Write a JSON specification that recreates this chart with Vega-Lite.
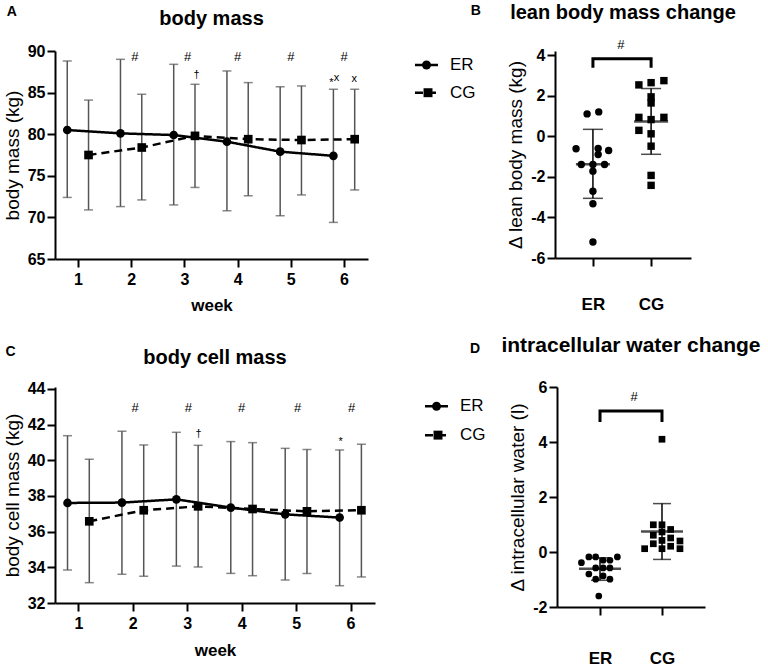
{
"$schema": "https://vega.github.io/schema/vega-lite/v6.json",
"padding": {"left": 3, "top": 3, "right": 3, "bottom": 3},
"background": "white",
"config": {
  "view": {"stroke": null},
  "axis": {"domainColor": "black", "domainWidth": 2, "tickColor": "black", "tickWidth": 2, "tickSize": 8, "labelFont": "Liberation Sans", "labelFontSize": 16, "labelFontWeight": "bold", "labelColor": "black", "labelOverlap": false, "titleFont": "Liberation Sans", "titleFontSize": 19, "titleFontWeight": "normal", "titleColor": "black", "grid": false},
  "title": {"font": "Liberation Sans", "fontSize": 20, "fontWeight": "bold", "color": "black"},
  "text": {"font": "Liberation Sans", "color": "black"}
},
"datasets": {
  "bm": [
    {"week":1,"group":"ER","mean":80.5,"lo":72.4,"hi":88.8},
    {"week":2,"group":"ER","mean":80.1,"lo":71.3,"hi":89.0},
    {"week":3,"group":"ER","mean":79.9,"lo":71.5,"hi":88.4},
    {"week":4,"group":"ER","mean":79.1,"lo":70.8,"hi":87.6},
    {"week":5,"group":"ER","mean":77.9,"lo":70.2,"hi":85.7},
    {"week":6,"group":"ER","mean":77.4,"lo":69.4,"hi":85.4},
    {"week":1,"group":"CG","mean":77.5,"lo":70.9,"hi":84.1},
    {"week":2,"group":"CG","mean":78.4,"lo":72.1,"hi":84.8},
    {"week":3,"group":"CG","mean":79.8,"lo":73.6,"hi":86.0},
    {"week":4,"group":"CG","mean":79.4,"lo":72.6,"hi":86.2},
    {"week":5,"group":"CG","mean":79.3,"lo":72.7,"hi":85.8},
    {"week":6,"group":"CG","mean":79.4,"lo":73.3,"hi":85.4}
  ],
  "bcm": [
    {"week":1,"group":"ER","mean":37.61,"lo":33.85,"hi":41.38},
    {"week":2,"group":"ER","mean":37.63,"lo":33.61,"hi":41.63},
    {"week":3,"group":"ER","mean":37.81,"lo":34.07,"hi":41.57},
    {"week":4,"group":"ER","mean":37.35,"lo":33.66,"hi":41.05},
    {"week":5,"group":"ER","mean":36.97,"lo":33.29,"hi":40.67},
    {"week":6,"group":"ER","mean":36.79,"lo":32.97,"hi":40.58},
    {"week":1,"group":"CG","mean":36.58,"lo":33.14,"hi":40.06},
    {"week":2,"group":"CG","mean":37.20,"lo":33.50,"hi":40.86},
    {"week":3,"group":"CG","mean":37.42,"lo":34.02,"hi":40.84},
    {"week":4,"group":"CG","mean":37.27,"lo":33.53,"hi":40.99},
    {"week":5,"group":"CG","mean":37.14,"lo":33.66,"hi":40.60},
    {"week":6,"group":"CG","mean":37.20,"lo":33.46,"hi":40.90}
  ],
  "annA": [
    {"kind":"sig","s":"#","t":2.07,"v":89.3},
    {"kind":"sig","s":"#","t":3.06,"v":89.3},
    {"kind":"sig","s":"#","t":4.0,"v":89.3},
    {"kind":"sig","s":"#","t":5.0,"v":89.3},
    {"kind":"sig","s":"#","t":6.0,"v":89.3},
    {"kind":"small","s":"†","t":3.23,"v":87.1},
    {"kind":"small","s":"*","t":5.76,"v":86.2},
    {"kind":"small","s":"x","t":5.86,"v":86.8},
    {"kind":"small","s":"x","t":6.19,"v":86.6},
    {"kind":"panel","s":"A","t":-0.243,"v":94.65}
  ],
  "annC": [
    {"kind":"sig","s":"#","t":2.04,"v":42.92},
    {"kind":"sig","s":"#","t":3.02,"v":42.92},
    {"kind":"sig","s":"#","t":4.0,"v":42.92},
    {"kind":"sig","s":"#","t":5.03,"v":42.92},
    {"kind":"sig","s":"#","t":6.02,"v":42.92},
    {"kind":"small","s":"†","t":3.21,"v":41.48},
    {"kind":"small","s":"*","t":5.82,"v":41.0},
    {"kind":"panel","s":"C","t":-0.248,"v":46.07}
  ],
  "lbm": [
    {"group":"ER","d":1.10,"jit":-0.10},
    {"group":"ER","d":1.20,"jit":0.10},
    {"group":"ER","d":-0.62,"jit":-0.29},
    {"group":"ER","d":-0.60,"jit":0.09},
    {"group":"ER","d":-0.70,"jit":0.27},
    {"group":"ER","d":-0.90,"jit":0.09},
    {"group":"ER","d":-1.39,"jit":-0.20},
    {"group":"ER","d":-1.39,"jit":0.0},
    {"group":"ER","d":-1.39,"jit":0.20},
    {"group":"ER","d":-1.72,"jit":0.0},
    {"group":"ER","d":-2.71,"jit":0.0},
    {"group":"ER","d":-3.33,"jit":0.0},
    {"group":"ER","d":-5.21,"jit":0.0},
    {"group":"CG","d":2.53,"jit":-0.21},
    {"group":"CG","d":2.64,"jit":0.0},
    {"group":"CG","d":2.74,"jit":0.22},
    {"group":"CG","d":1.94,"jit":0.0},
    {"group":"CG","d":1.64,"jit":0.0},
    {"group":"CG","d":0.93,"jit":-0.21},
    {"group":"CG","d":0.82,"jit":0.0},
    {"group":"CG","d":0.93,"jit":0.22},
    {"group":"CG","d":0.29,"jit":-0.21},
    {"group":"CG","d":0.12,"jit":0.0},
    {"group":"CG","d":-0.49,"jit":0.0},
    {"group":"CG","d":-1.93,"jit":0.0},
    {"group":"CG","d":-2.42,"jit":0.0}
  ],
  "lbmStats": [
    {"group":"ER","mean":-1.38,"lo":-3.06,"hi":0.34},
    {"group":"CG","mean":0.73,"lo":-0.89,"hi":2.35}
  ],
  "lbmBracket": [
    {"group":"ER","v":3.38,"o":1},
    {"group":"ER","v":3.82,"o":2},
    {"group":"CG","v":3.82,"o":3},
    {"group":"CG","v":3.38,"o":4}
  ],
  "annB": [
    {"kind":"sig","s":"#","t":1.48,"v":4.5},
    {"kind":"panel","s":"B","t":-1.015,"v":6.17}
  ],
  "legB": [
    {"group":"ER","a":-2.059,"b":-1.663,"c":-1.861,"l":-1.457,"v":3.51},
    {"group":"CG","a":-2.059,"b":-1.680,"c":-1.835,"l":-1.457,"v":2.145}
  ],
  "icw": [
    {"group":"ER","d":-0.39,"jit":-0.30},
    {"group":"ER","d":-0.18,"jit":-0.18},
    {"group":"ER","d":-0.18,"jit":-0.07},
    {"group":"ER","d":-0.30,"jit":0.05},
    {"group":"ER","d":-0.30,"jit":0.16},
    {"group":"ER","d":-0.18,"jit":0.28},
    {"group":"ER","d":-0.58,"jit":-0.07},
    {"group":"ER","d":-0.58,"jit":0.05},
    {"group":"ER","d":-0.58,"jit":0.16},
    {"group":"ER","d":-0.80,"jit":-0.18},
    {"group":"ER","d":-0.87,"jit":0.05},
    {"group":"ER","d":-0.99,"jit":-0.07},
    {"group":"ER","d":-0.99,"jit":0.16},
    {"group":"ER","d":-1.60,"jit":-0.02},
    {"group":"CG","d":4.10,"jit":0.0},
    {"group":"CG","d":0.99,"jit":-0.14},
    {"group":"CG","d":0.99,"jit":0.0},
    {"group":"CG","d":0.82,"jit":0.14},
    {"group":"CG","d":0.61,"jit":-0.14},
    {"group":"CG","d":0.73,"jit":0.0},
    {"group":"CG","d":0.51,"jit":0.14},
    {"group":"CG","d":0.40,"jit":0.29},
    {"group":"CG","d":0.30,"jit":-0.14},
    {"group":"CG","d":0.42,"jit":0.0},
    {"group":"CG","d":0.12,"jit":-0.28},
    {"group":"CG","d":0.12,"jit":0.0},
    {"group":"CG","d":0.21,"jit":0.14},
    {"group":"CG","d":0.12,"jit":0.29}
  ],
  "icwStats": [
    {"group":"ER","mean":-0.61,"lo":-1.03,"hi":-0.21},
    {"group":"CG","mean":0.75,"lo":-0.27,"hi":1.76}
  ],
  "icwBracket": [
    {"group":"ER","v":4.73,"o":1},
    {"group":"ER","v":5.13,"o":2},
    {"group":"CG","v":5.13,"o":3},
    {"group":"CG","v":4.73,"o":4}
  ],
  "annD": [
    {"kind":"sig","s":"#","t":1.55,"v":5.64},
    {"kind":"panel","s":"D","t":-1.016,"v":7.38}
  ],
  "legD": [
    {"group":"ER","a":-1.824,"b":-1.453,"c":-1.638,"l":-1.259,"v":5.30},
    {"group":"CG","a":-1.824,"b":-1.470,"c":-1.614,"l":-1.259,"v":4.25}
  ]
},
"spacing": 336,
"bounds": "flush",
"vconcat": [
 {
  "spacing": 187,
  "bounds": "flush",
  "hconcat": [
   {
    "width": 313, "height": 208,
    "title": {"text": "body mass", "anchor": "middle", "frame": "group", "offset": -24},
    "layer": [
     {
      "data": {"name": "bm"},
      "transform": [{"calculate": "datum.week + (datum.group == 'ER' ? -0.2 : 0.2)", "as": "t"}],
      "layer": [
       {"mark": {"type": "rule", "color": "#555555", "strokeWidth": 1.5},
        "encoding": {
          "x": {"field": "t", "type": "quantitative", "scale": {"domain": [0.57, 6.45], "nice": false, "zero": false},
                "axis": {"values": [1,2,3,4,5,6], "title": "week", "titleFontWeight": "bold", "titleFontSize": 17, "labelPadding": 4, "titlePadding": 10, "labelOverlap": false}},
          "y": {"field": "lo", "type": "quantitative", "scale": {"domain": [65, 90], "nice": false, "zero": false},
                "axis": {"values": [65,70,75,80,85,90], "title": "body mass (kg)", "labelPadding": 2, "titlePadding": 5, "labelOverlap": false}},
          "y2": {"field": "hi"}}},
       {"mark": {"type": "tick", "orient": "horizontal", "color": "#555555", "size": 9, "thickness": 1.5},
        "encoding": {
          "x": {"field": "t", "type": "quantitative", "scale": {"domain": [0.57, 6.45], "nice": false, "zero": false}},
          "y": {"field": "lo", "type": "quantitative", "scale": {"domain": [65, 90], "nice": false, "zero": false}}}},
       {"mark": {"type": "tick", "orient": "horizontal", "color": "#555555", "size": 9, "thickness": 1.5},
        "encoding": {
          "x": {"field": "t", "type": "quantitative", "scale": {"domain": [0.57, 6.45], "nice": false, "zero": false}},
          "y": {"field": "hi", "type": "quantitative", "scale": {"domain": [65, 90], "nice": false, "zero": false}}}},
       {"mark": {"type": "line", "color": "black", "strokeWidth": 2.5},
        "encoding": {
          "x": {"field": "t", "type": "quantitative", "scale": {"domain": [0.57, 6.45], "nice": false, "zero": false}},
          "y": {"field": "mean", "type": "quantitative", "scale": {"domain": [65, 90], "nice": false, "zero": false}},
          "strokeDash": {"field": "group", "type": "nominal", "scale": {"domain": ["ER","CG"], "range": [[1,0],[8,5]]}, "legend": null}}},
       {"mark": {"type": "point", "filled": true, "color": "black", "opacity": 1, "size": 75},
        "encoding": {
          "x": {"field": "t", "type": "quantitative", "scale": {"domain": [0.57, 6.45], "nice": false, "zero": false}},
          "y": {"field": "mean", "type": "quantitative", "scale": {"domain": [65, 90], "nice": false, "zero": false}},
          "shape": {"field": "group", "type": "nominal", "scale": {"domain": ["ER","CG"], "range": ["circle","square"]}, "legend": null}}}
      ]
     },
     {
      "data": {"name": "annA"},
      "layer": [
       {"transform": [{"filter": "datum.kind == 'sig'"}],
        "mark": {"type": "text", "fontSize": 13, "baseline": "middle", "align": "center"},
        "encoding": {
          "x": {"field": "t", "type": "quantitative", "scale": {"domain": [0.57, 6.45], "nice": false, "zero": false}},
          "y": {"field": "v", "type": "quantitative", "scale": {"domain": [65, 90], "nice": false, "zero": false}},
          "text": {"field": "s"}}},
       {"transform": [{"filter": "datum.kind == 'small'"}],
        "mark": {"type": "text", "fontSize": 11, "baseline": "middle", "align": "center"},
        "encoding": {
          "x": {"field": "t", "type": "quantitative", "scale": {"domain": [0.57, 6.45], "nice": false, "zero": false}},
          "y": {"field": "v", "type": "quantitative", "scale": {"domain": [65, 90], "nice": false, "zero": false}},
          "text": {"field": "s"}}},
       {"transform": [{"filter": "datum.kind == 'panel'"}],
        "mark": {"type": "text", "fontSize": 14, "fontWeight": "bold", "baseline": "middle", "align": "center"},
        "encoding": {
          "x": {"field": "t", "type": "quantitative", "scale": {"domain": [0.57, 6.45], "nice": false, "zero": false}},
          "y": {"field": "v", "type": "quantitative", "scale": {"domain": [65, 90], "nice": false, "zero": false}},
          "text": {"field": "s"}}}
      ]
     }
    ]
   },
   {
    "width": 136, "height": 207,
    "title": {"text": "lean body mass change", "anchor": "middle", "frame": "group", "offset": -19},
    "layer": [
     {"mark": {"type": "rule", "color": "black", "strokeWidth": 2, "strokeDash": [2,5]},
      "encoding": {"y": {"datum": 0, "type": "quantitative", "scale": {"domain": [-6, 4.2], "nice": false, "zero": false}}}},
     {"data": {"name": "lbm"},
      "transform": [{"calculate": "(datum.group == 'ER' ? 1 : 2) + datum.jit", "as": "xp"}],
      "layer": [
       {"transform": [{"filter": "datum.group == 'ER'"}],
        "mark": {"type": "point", "shape": "circle", "filled": true, "color": "black", "opacity": 1, "size": 55},
        "encoding": {
          "x": {"field": "xp", "type": "quantitative", "scale": {"domain": [0.348, 2.686], "nice": false, "zero": false},
                "axis": {"values": [1,2], "labelExpr": "datum.value == 1 ? 'ER' : 'CG'", "title": null, "labelFontSize": 17, "labelPadding": 30, "labelOverlap": false}},
          "y": {"field": "d", "type": "quantitative", "scale": {"domain": [-6, 4.2], "nice": false, "zero": false},
                "axis": {"values": [-6,-4,-2,0,2,4], "labelExpr": "'' + datum.value", "title": "Δ lean body mass (kg)", "labelPadding": 2, "titlePadding": 5, "labelOverlap": false}}}},
       {"transform": [{"filter": "datum.group == 'CG'"}],
        "mark": {"type": "point", "shape": "square", "filled": true, "color": "black", "opacity": 1, "size": 55},
        "encoding": {
          "x": {"field": "xp", "type": "quantitative", "scale": {"domain": [0.348, 2.686], "nice": false, "zero": false}},
          "y": {"field": "d", "type": "quantitative", "scale": {"domain": [-6, 4.2], "nice": false, "zero": false}}}}
      ]},
     {"data": {"name": "lbmStats"},
      "transform": [{"calculate": "datum.group == 'ER' ? 1 : 2", "as": "xp"}],
      "layer": [
       {"mark": {"type": "rule", "color": "black", "strokeWidth": 1.5},
        "encoding": {
          "x": {"field": "xp", "type": "quantitative", "scale": {"domain": [0.348, 2.686], "nice": false, "zero": false}},
          "y": {"field": "lo", "type": "quantitative", "scale": {"domain": [-6, 4.2], "nice": false, "zero": false}},
          "y2": {"field": "hi"}}},
       {"mark": {"type": "tick", "orient": "horizontal", "color": "black", "size": 20, "thickness": 1.5},
        "encoding": {
          "x": {"field": "xp", "type": "quantitative", "scale": {"domain": [0.348, 2.686], "nice": false, "zero": false}},
          "y": {"field": "lo", "type": "quantitative", "scale": {"domain": [-6, 4.2], "nice": false, "zero": false}}}},
       {"mark": {"type": "tick", "orient": "horizontal", "color": "black", "size": 20, "thickness": 1.5},
        "encoding": {
          "x": {"field": "xp", "type": "quantitative", "scale": {"domain": [0.348, 2.686], "nice": false, "zero": false}},
          "y": {"field": "hi", "type": "quantitative", "scale": {"domain": [-6, 4.2], "nice": false, "zero": false}}}},
       {"mark": {"type": "tick", "orient": "horizontal", "color": "black", "size": 34, "thickness": 2.5},
        "encoding": {
          "x": {"field": "xp", "type": "quantitative", "scale": {"domain": [0.348, 2.686], "nice": false, "zero": false}},
          "y": {"field": "mean", "type": "quantitative", "scale": {"domain": [-6, 4.2], "nice": false, "zero": false}}}}
      ]},
     {"data": {"name": "lbmBracket"},
      "transform": [{"calculate": "datum.group == 'ER' ? 1 : 2", "as": "xp"}],
      "mark": {"type": "line", "color": "black", "strokeWidth": 3, "strokeJoin": "miter", "strokeCap": "butt"},
      "encoding": {
        "x": {"field": "xp", "type": "quantitative", "scale": {"domain": [0.348, 2.686], "nice": false, "zero": false}},
        "y": {"field": "v", "type": "quantitative", "scale": {"domain": [-6, 4.2], "nice": false, "zero": false}},
        "order": {"field": "o"}}},
     {"data": {"name": "annB"},
      "layer": [
       {"transform": [{"filter": "datum.kind == 'sig'"}],
        "mark": {"type": "text", "fontSize": 13, "baseline": "middle", "align": "center"},
        "encoding": {
          "x": {"field": "t", "type": "quantitative", "scale": {"domain": [0.348, 2.686], "nice": false, "zero": false}},
          "y": {"field": "v", "type": "quantitative", "scale": {"domain": [-6, 4.2], "nice": false, "zero": false}},
          "text": {"field": "s"}}},
       {"transform": [{"filter": "datum.kind == 'panel'"}],
        "mark": {"type": "text", "fontSize": 14, "fontWeight": "bold", "baseline": "middle", "align": "center"},
        "encoding": {
          "x": {"field": "t", "type": "quantitative", "scale": {"domain": [0.348, 2.686], "nice": false, "zero": false}},
          "y": {"field": "v", "type": "quantitative", "scale": {"domain": [-6, 4.2], "nice": false, "zero": false}},
          "text": {"field": "s"}}}
      ]},
     {"data": {"name": "legB"},
      "layer": [
       {"mark": {"type": "rule", "color": "black", "strokeWidth": 2.5, "strokeCap": "butt"},
        "encoding": {
          "x": {"field": "a", "type": "quantitative", "scale": {"domain": [0.348, 2.686], "nice": false, "zero": false}},
          "x2": {"field": "b"},
          "y": {"field": "v", "type": "quantitative", "scale": {"domain": [-6, 4.2], "nice": false, "zero": false}},
          "strokeDash": {"field": "group", "type": "nominal", "scale": {"domain": ["ER","CG"], "range": [[1,0],[7,14,2,10]]}, "legend": null}}},
       {"mark": {"type": "point", "filled": true, "color": "black", "opacity": 1, "size": 80},
        "encoding": {
          "x": {"field": "c", "type": "quantitative", "scale": {"domain": [0.348, 2.686], "nice": false, "zero": false}},
          "y": {"field": "v", "type": "quantitative", "scale": {"domain": [-6, 4.2], "nice": false, "zero": false}},
          "shape": {"field": "group", "type": "nominal", "scale": {"domain": ["ER","CG"], "range": ["circle","square"]}, "legend": null}}},
       {"mark": {"type": "text", "fontSize": 17, "align": "left", "baseline": "middle"},
        "encoding": {
          "x": {"field": "l", "type": "quantitative", "scale": {"domain": [0.348, 2.686], "nice": false, "zero": false}},
          "y": {"field": "v", "type": "quantitative", "scale": {"domain": [-6, 4.2], "nice": false, "zero": false}},
          "text": {"field": "group"}}}
      ]}
    ]
   }
  ]
 },
 {
  "spacing": 182,
  "bounds": "flush",
  "hconcat": [
   {
    "width": 320, "height": 216,
    "title": {"text": "body cell mass", "anchor": "middle", "frame": "group", "offset": -23},
    "layer": [
     {
      "data": {"name": "bcm"},
      "transform": [{"calculate": "datum.week + (datum.group == 'ER' ? -0.2 : 0.2)", "as": "t"}],
      "layer": [
       {"mark": {"type": "rule", "color": "#555555", "strokeWidth": 1.5},
        "encoding": {
          "x": {"field": "t", "type": "quantitative", "scale": {"domain": [0.57, 6.45], "nice": false, "zero": false},
                "axis": {"values": [1,2,3,4,5,6], "title": "week", "titleFontWeight": "bold", "titleFontSize": 17, "labelPadding": 4, "titlePadding": 11, "labelOverlap": false}},
          "y": {"field": "lo", "type": "quantitative", "scale": {"domain": [32, 44.11], "nice": false, "zero": false},
                "axis": {"values": [32,34,36,38,40,42,44], "title": "body cell mass (kg)", "labelPadding": 2, "titlePadding": 5, "labelOverlap": false}},
          "y2": {"field": "hi"}}},
       {"mark": {"type": "tick", "orient": "horizontal", "color": "#555555", "size": 9, "thickness": 1.5},
        "encoding": {
          "x": {"field": "t", "type": "quantitative", "scale": {"domain": [0.57, 6.45], "nice": false, "zero": false}},
          "y": {"field": "lo", "type": "quantitative", "scale": {"domain": [32, 44.11], "nice": false, "zero": false},
                "axis": {"values": [32,34,36,38,40,42,44], "title": "body cell mass (kg)", "labelPadding": 2, "titlePadding": 5, "labelOverlap": false}}}},
       {"mark": {"type": "tick", "orient": "horizontal", "color": "#555555", "size": 9, "thickness": 1.5},
        "encoding": {
          "x": {"field": "t", "type": "quantitative", "scale": {"domain": [0.57, 6.45], "nice": false, "zero": false}},
          "y": {"field": "hi", "type": "quantitative", "scale": {"domain": [32, 44.11], "nice": false, "zero": false},
                "axis": {"values": [32,34,36,38,40,42,44], "title": "body cell mass (kg)", "labelPadding": 2, "titlePadding": 5, "labelOverlap": false}}}},
       {"mark": {"type": "line", "color": "black", "strokeWidth": 2.5},
        "encoding": {
          "x": {"field": "t", "type": "quantitative", "scale": {"domain": [0.57, 6.45], "nice": false, "zero": false}},
          "y": {"field": "mean", "type": "quantitative", "scale": {"domain": [32, 44.11], "nice": false, "zero": false},
                "axis": {"values": [32,34,36,38,40,42,44], "title": "body cell mass (kg)", "labelPadding": 2, "titlePadding": 5, "labelOverlap": false}},
          "strokeDash": {"field": "group", "type": "nominal", "scale": {"domain": ["ER","CG"], "range": [[1,0],[8,5]]}, "legend": null}}},
       {"mark": {"type": "point", "filled": true, "color": "black", "opacity": 1, "size": 75},
        "encoding": {
          "x": {"field": "t", "type": "quantitative", "scale": {"domain": [0.57, 6.45], "nice": false, "zero": false}},
          "y": {"field": "mean", "type": "quantitative", "scale": {"domain": [32, 44.11], "nice": false, "zero": false},
                "axis": {"values": [32,34,36,38,40,42,44], "title": "body cell mass (kg)", "labelPadding": 2, "titlePadding": 5, "labelOverlap": false}},
          "shape": {"field": "group", "type": "nominal", "scale": {"domain": ["ER","CG"], "range": ["circle","square"]}, "legend": null}}}
      ]
     },
     {
      "data": {"name": "annC"},
      "layer": [
       {"transform": [{"filter": "datum.kind == 'sig'"}],
        "mark": {"type": "text", "fontSize": 13, "baseline": "middle", "align": "center"},
        "encoding": {
          "x": {"field": "t", "type": "quantitative", "scale": {"domain": [0.57, 6.45], "nice": false, "zero": false}},
          "y": {"field": "v", "type": "quantitative", "scale": {"domain": [32, 44.11], "nice": false, "zero": false},
                "axis": {"values": [32,34,36,38,40,42,44], "title": "body cell mass (kg)", "labelPadding": 2, "titlePadding": 5, "labelOverlap": false}},
          "text": {"field": "s"}}},
       {"transform": [{"filter": "datum.kind == 'small'"}],
        "mark": {"type": "text", "fontSize": 11, "baseline": "middle", "align": "center"},
        "encoding": {
          "x": {"field": "t", "type": "quantitative", "scale": {"domain": [0.57, 6.45], "nice": false, "zero": false}},
          "y": {"field": "v", "type": "quantitative", "scale": {"domain": [32, 44.11], "nice": false, "zero": false},
                "axis": {"values": [32,34,36,38,40,42,44], "title": "body cell mass (kg)", "labelPadding": 2, "titlePadding": 5, "labelOverlap": false}},
          "text": {"field": "s"}}},
       {"transform": [{"filter": "datum.kind == 'panel'"}],
        "mark": {"type": "text", "fontSize": 14, "fontWeight": "bold", "baseline": "middle", "align": "center"},
        "encoding": {
          "x": {"field": "t", "type": "quantitative", "scale": {"domain": [0.57, 6.45], "nice": false, "zero": false}},
          "y": {"field": "v", "type": "quantitative", "scale": {"domain": [32, 44.11], "nice": false, "zero": false},
                "axis": {"values": [32,34,36,38,40,42,44], "title": "body cell mass (kg)", "labelPadding": 2, "titlePadding": 5, "labelOverlap": false}},
          "text": {"field": "s"}}}
      ]
     }
    ]
   },
   {
    "width": 148, "height": 220,
    "title": {"text": "intracellular water change", "anchor": "middle", "frame": "group", "offset": -14, "fontSize": 21},
    "layer": [
     {"mark": {"type": "rule", "color": "black", "strokeWidth": 2, "strokeDash": [2,5]},
      "encoding": {"y": {"datum": 0, "type": "quantitative", "scale": {"domain": [-2, 6], "nice": false, "zero": false}}}},
     {"data": {"name": "icw"},
      "transform": [{"calculate": "(datum.group == 'ER' ? 1 : 2) + datum.jit", "as": "xp"}],
      "layer": [
       {"transform": [{"filter": "datum.group == 'ER'"}],
        "mark": {"type": "point", "shape": "circle", "filled": true, "color": "black", "opacity": 1, "size": 45},
        "encoding": {
          "x": {"field": "xp", "type": "quantitative", "scale": {"domain": [0.306, 2.694], "nice": false, "zero": false},
                "axis": {"values": [1,2], "labelExpr": "datum.value == 1 ? 'ER' : 'CG'", "title": null, "labelFontSize": 17, "labelPadding": 35, "labelOverlap": false}},
          "y": {"field": "d", "type": "quantitative", "scale": {"domain": [-2, 6], "nice": false, "zero": false},
                "axis": {"values": [-2,0,2,4,6], "labelExpr": "'' + datum.value", "title": "Δ intracellular water (l)", "labelPadding": 2, "titlePadding": 5, "labelOverlap": false}}}},
       {"transform": [{"filter": "datum.group == 'CG'"}],
        "mark": {"type": "point", "shape": "square", "filled": true, "color": "black", "opacity": 1, "size": 45},
        "encoding": {
          "x": {"field": "xp", "type": "quantitative", "scale": {"domain": [0.306, 2.694], "nice": false, "zero": false}},
          "y": {"field": "d", "type": "quantitative", "scale": {"domain": [-2, 6], "nice": false, "zero": false}}}}
      ]},
     {"data": {"name": "icwStats"},
      "transform": [{"calculate": "datum.group == 'ER' ? 1 : 2", "as": "xp"}],
      "layer": [
       {"mark": {"type": "rule", "color": "black", "strokeWidth": 1.5},
        "encoding": {
          "x": {"field": "xp", "type": "quantitative", "scale": {"domain": [0.306, 2.694], "nice": false, "zero": false}},
          "y": {"field": "lo", "type": "quantitative", "scale": {"domain": [-2, 6], "nice": false, "zero": false}},
          "y2": {"field": "hi"}}},
       {"mark": {"type": "tick", "orient": "horizontal", "color": "black", "size": 18, "thickness": 1.5},
        "encoding": {
          "x": {"field": "xp", "type": "quantitative", "scale": {"domain": [0.306, 2.694], "nice": false, "zero": false}},
          "y": {"field": "lo", "type": "quantitative", "scale": {"domain": [-2, 6], "nice": false, "zero": false}}}},
       {"mark": {"type": "tick", "orient": "horizontal", "color": "black", "size": 18, "thickness": 1.5},
        "encoding": {
          "x": {"field": "xp", "type": "quantitative", "scale": {"domain": [0.306, 2.694], "nice": false, "zero": false}},
          "y": {"field": "hi", "type": "quantitative", "scale": {"domain": [-2, 6], "nice": false, "zero": false}}}},
       {"mark": {"type": "tick", "orient": "horizontal", "color": "black", "size": 42, "thickness": 2.5},
        "encoding": {
          "x": {"field": "xp", "type": "quantitative", "scale": {"domain": [0.306, 2.694], "nice": false, "zero": false}},
          "y": {"field": "mean", "type": "quantitative", "scale": {"domain": [-2, 6], "nice": false, "zero": false}}}}
      ]},
     {"data": {"name": "icwBracket"},
      "transform": [{"calculate": "datum.group == 'ER' ? 1 : 2", "as": "xp"}],
      "mark": {"type": "line", "color": "black", "strokeWidth": 3, "strokeJoin": "miter", "strokeCap": "butt"},
      "encoding": {
        "x": {"field": "xp", "type": "quantitative", "scale": {"domain": [0.306, 2.694], "nice": false, "zero": false}},
        "y": {"field": "v", "type": "quantitative", "scale": {"domain": [-2, 6], "nice": false, "zero": false}},
        "order": {"field": "o"}}},
     {"data": {"name": "annD"},
      "layer": [
       {"transform": [{"filter": "datum.kind == 'sig'"}],
        "mark": {"type": "text", "fontSize": 13, "baseline": "middle", "align": "center"},
        "encoding": {
          "x": {"field": "t", "type": "quantitative", "scale": {"domain": [0.306, 2.694], "nice": false, "zero": false}},
          "y": {"field": "v", "type": "quantitative", "scale": {"domain": [-2, 6], "nice": false, "zero": false}},
          "text": {"field": "s"}}},
       {"transform": [{"filter": "datum.kind == 'panel'"}],
        "mark": {"type": "text", "fontSize": 14, "fontWeight": "bold", "baseline": "middle", "align": "center"},
        "encoding": {
          "x": {"field": "t", "type": "quantitative", "scale": {"domain": [0.306, 2.694], "nice": false, "zero": false}},
          "y": {"field": "v", "type": "quantitative", "scale": {"domain": [-2, 6], "nice": false, "zero": false}},
          "text": {"field": "s"}}}
      ]},
     {"data": {"name": "legD"},
      "layer": [
       {"mark": {"type": "rule", "color": "black", "strokeWidth": 2.5, "strokeCap": "butt"},
        "encoding": {
          "x": {"field": "a", "type": "quantitative", "scale": {"domain": [0.306, 2.694], "nice": false, "zero": false}},
          "x2": {"field": "b"},
          "y": {"field": "v", "type": "quantitative", "scale": {"domain": [-2, 6], "nice": false, "zero": false}},
          "strokeDash": {"field": "group", "type": "nominal", "scale": {"domain": ["ER","CG"], "range": [[1,0],[7,14,2,10]]}, "legend": null}}},
       {"mark": {"type": "point", "filled": true, "color": "black", "opacity": 1, "size": 80},
        "encoding": {
          "x": {"field": "c", "type": "quantitative", "scale": {"domain": [0.306, 2.694], "nice": false, "zero": false}},
          "y": {"field": "v", "type": "quantitative", "scale": {"domain": [-2, 6], "nice": false, "zero": false}},
          "shape": {"field": "group", "type": "nominal", "scale": {"domain": ["ER","CG"], "range": ["circle","square"]}, "legend": null}}},
       {"mark": {"type": "text", "fontSize": 17, "align": "left", "baseline": "middle"},
        "encoding": {
          "x": {"field": "l", "type": "quantitative", "scale": {"domain": [0.306, 2.694], "nice": false, "zero": false}},
          "y": {"field": "v", "type": "quantitative", "scale": {"domain": [-2, 6], "nice": false, "zero": false}},
          "text": {"field": "group"}}}
      ]}
    ]
   }
  ]
 }
]
}
